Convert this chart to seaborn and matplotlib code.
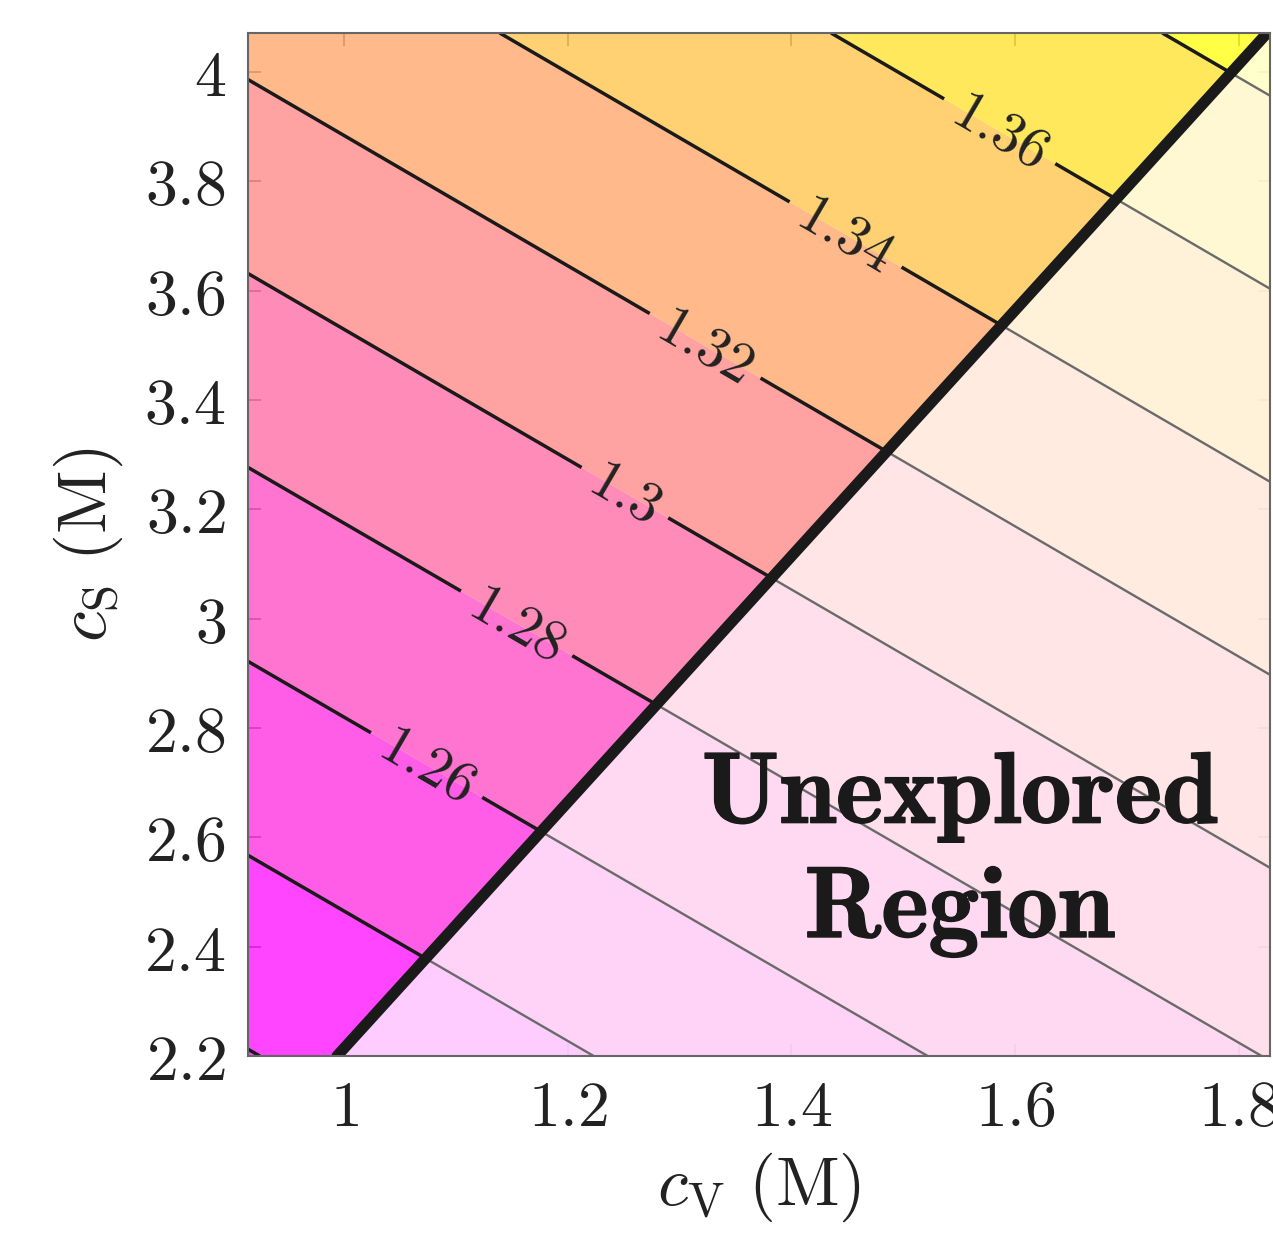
import numpy as np
import matplotlib
matplotlib.use("Agg")
import matplotlib.pyplot as plt
import matplotlib.patheffects as pe
from matplotlib.patches import Polygon
from matplotlib.ticker import FuncFormatter
import seaborn as sns

# values
cv_edges = [0.914, 1.828]            # c_V (M) at left/right of the axes
cs_edges = [2.2, 4.071]              # c_S (M) at bottom/top of the axes
z_corners = [[1.2193, 1.2805],       # contour value at the four corners
             [1.3248, 1.3865]]       # rows: c_S, cols: c_V
levels = [1.20, 1.22, 1.24, 1.26, 1.28, 1.30, 1.32, 1.34, 1.36, 1.38, 1.40]
label_levels = [1.26, 1.28, 1.30, 1.32, 1.34, 1.36]
plain_levels = [1.22, 1.24, 1.38]
label_cv = [1.068, 1.153, 1.247, 1.318, 1.448, 1.587]
label_cs = [2.712, 2.987, 3.216, 3.482, 3.701, 3.894]
boundary_cv = [0.9936, 1.8255]
boundary_cs = [2.2, 4.071]
xticks = [1, 1.2, 1.4, 1.6, 1.8]
yticks = [2.2, 2.4, 2.6, 2.8, 3, 3.2, 3.4, 3.6, 3.8, 4]

sns.set_theme(style="ticks")
plt.rcParams["mathtext.fontset"] = "cm"
plt.rcParams["font.family"] = ["DejaVu Serif"]

fig = plt.figure(figsize=(12.73, 12.40), dpi=100)
ax = fig.add_axes([248 / 1273, 1 - 1056 / 1240, (1270 - 248) / 1273, (1056 - 33) / 1240])

X, Y = np.meshgrid(cv_edges, cs_edges)
Z = np.array(z_corners)

cmap = plt.get_cmap("spring")
band_cols = [cmap(0.0)] + [cmap(t) for t in np.linspace(0, 1, 9)]
ax.contourf(X, Y, Z, levels=levels, colors=band_cols, alpha=0.73, antialiased=True)

xmin, xmax = cv_edges
ymin, ymax = cs_edges
left_pts = [(xmin, ymin), (boundary_cv[0], ymin), (boundary_cv[1], ymax), (xmin, ymax)]
right_pts = [(boundary_cv[0], ymin), (xmax, ymin), (xmax, ymax), (boundary_cv[1], ymax)]

# black lines on the explored side
cs_lab = ax.contour(X, Y, Z, levels=label_levels, colors="k", linewidths=2.5)
cs_lab.set_clip_path(Polygon(left_pts, closed=True, transform=ax.transData))
cs_plain = ax.contour(X, Y, Z, levels=plain_levels, colors="k", linewidths=2.5)
cs_plain.set_clip_path(Polygon(left_pts, closed=True, transform=ax.transData))

# faded unexplored region
ax.fill([p[0] for p in right_pts], [p[1] for p in right_pts], color="white", alpha=0.73,
        lw=0, zorder=3)
cs_grey = ax.contour(X, Y, Z, levels=levels, colors="#6a6a6a", linewidths=1.7, zorder=4)
cs_grey.set_clip_path(Polygon(right_pts, closed=True, transform=ax.transData))

ax.clabel(cs_lab, inline=True, inline_spacing=14, fontsize=41,
          colors="#222222", fmt=lambda v: f"${v:g}$",
          manual=list(zip(label_cv, label_cs)))

ax.axline((boundary_cv[0], boundary_cs[0]), (boundary_cv[1], boundary_cs[1]),
          color="k", lw=8, zorder=5)

ax.text(1.551, 2.57, "$\\mathbf{Unexplored}$\n$\\mathbf{Region}$", ha="center", va="center",
        fontsize=73, color="k", zorder=6, linespacing=1.2,
        path_effects=[pe.withStroke(linewidth=1, foreground="k")])

ax.set_xlim(xmin, xmax)
ax.set_ylim(ymin, ymax)
ax.set_xticks(xticks)
ax.set_yticks(yticks)
fmt = FuncFormatter(lambda v, p: f"${v:g}$")
ax.xaxis.set_major_formatter(fmt)
ax.yaxis.set_major_formatter(fmt)
ax.tick_params(direction="in", top=True, right=True, length=9, width=1.3,
               color=(0.2, 0.2, 0.2, 0.6), labelsize=46, labelcolor="#222222", pad=16)
for s in ax.spines.values():
    s.set_color("#666666")
    s.set_linewidth(1.5)
    s.set_zorder(7)

ax.set_xlabel("$c_{\\mathrm{V}}\\ (\\mathrm{M})$", fontsize=50, color="#222222", labelpad=8)
ax.set_ylabel("$c_{\\mathrm{S}}\\ (\\mathrm{M})$", fontsize=50, color="#222222", labelpad=14)

fig.savefig("out.png", dpi=100)
